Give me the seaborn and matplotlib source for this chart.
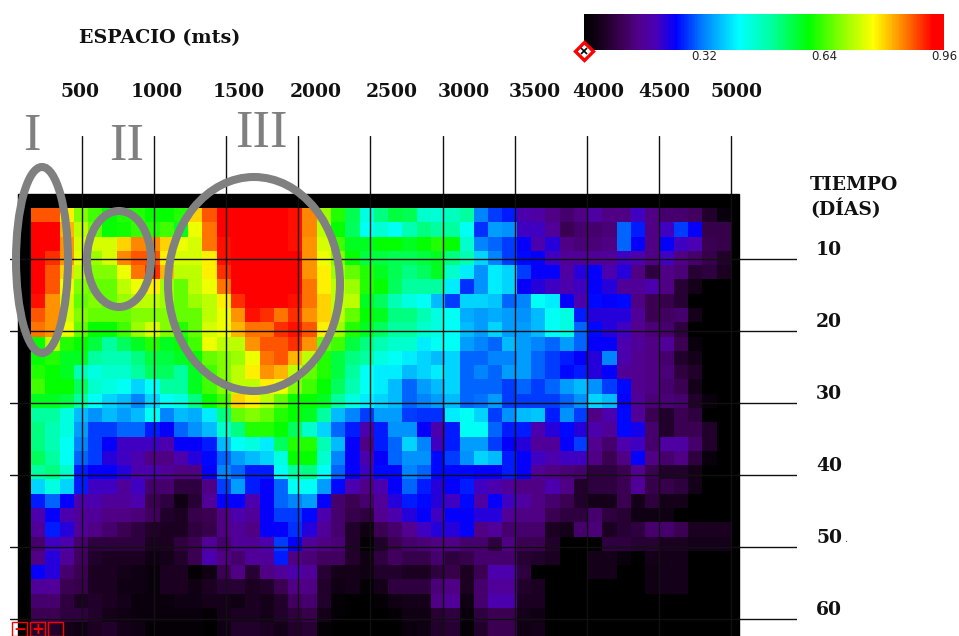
import matplotlib
matplotlib.use("Agg")
import matplotlib.pyplot as plt
import numpy as np
import pandas as pd
import seaborn as sns
from matplotlib.colors import LinearSegmentedColormap
from matplotlib.patches import Ellipse, Rectangle

# valores, en centesimas (escala 0 - 96)
r00 = [88,88,78,68,64,60,62,62,60,60, 62,80,88,96,96,96,96,96,92,85, 70,62,55,44,52,56,55,46,45,47, 50,32,28,26,18,17,14,12,14,17, 14,14,20,14,12,12,11,6,2]
r01 = [93,93,82,72,66,60,61,63,62,64, 58,76,86,96,96,96,96,96,92,85, 72,60,54,42,45,42,48,52,50,50, 42,27,34,33,20,20,16,10,12,12, 13,30,26,14,20,28,24,9,9]
r02 = [93,93,84,74,74,74,80,85,85,80, 76,74,86,92,96,96,96,96,92,84, 74,64,58,58,60,60,58,60,62,60, 46,32,30,28,24,18,22,14,13,13, 14,30,24,14,24,20,19,10,9]
r03 = [96,90,84,75,70,74,85,88,88,78, 74,74,78,92,96,96,96,96,94,84, 76,68,60,56,56,55,55,56,58,52, 48,38,32,28,25,24,20,16,16,16, 16,20,18,14,20,14,12,9,6]
r04 = [96,88,80,72,68,68,76,86,90,82, 72,72,78,90,96,96,96,96,94,84, 78,70,66,62,58,55,52,54,58,46, 40,33,40,38,28,24,24,17,22,24, 18,22,14,8,14,13,7,8,5]
r05 = [96,88,76,68,66,66,72,76,78,70, 66,72,76,86,94,96,96,96,94,86, 78,72,70,62,60,54,50,50,50,40, 27,33,40,38,24,22,20,18,20,24, 22,16,16,18,14,7,4,0,0]
r06 = [92,84,74,66,68,66,70,72,72,70, 66,70,72,78,90,96,96,96,92,86, 80,72,72,58,54,48,44,42,36,28, 38,38,37,30,32,42,40,24,18,25, 24,25,14,10,9,7,0,0,0]
r07 = [88,84,74,68,66,66,66,68,68,68, 66,66,72,76,84,92,90,86,90,84, 80,72,66,60,58,52,52,48,44,42, 35,34,35,34,33,36,42,44,26,22, 22,22,16,10,11,12,4,0,0]
r08 = [86,84,76,66,60,60,64,70,74,68, 62,66,74,76,82,86,86,90,92,88, 78,70,62,58,54,50,50,46,44,42, 36,34,38,34,34,36,42,44,30,25, 22,20,15,13,12,8,0,0,0]
r09 = [60,72,62,60,56,50,54,58,62,58, 60,64,76,72,72,84,88,88,90,84, 66,64,56,52,48,46,46,40,42,42, 34,32,30,36,34,32,30,34,30,24, 24,18,16,14,16,10,2,0,0]
r10 = [60,62,58,58,50,48,48,52,56,56, 58,60,66,68,70,76,86,88,82,72, 62,56,52,50,44,42,40,38,36,38, 30,30,32,32,34,30,28,26,24,22, 32,18,15,14,12,6,4,0,0]
r11 = [62,60,58,48,44,46,46,50,54,54, 50,58,64,68,72,78,84,82,72,66, 62,56,50,42,40,40,36,38,40,38, 30,32,30,34,34,30,28,25,26,22, 24,16,15,14,13,8,6,0,0]
r12 = [64,60,60,54,46,44,42,38,42,50, 50,58,64,68,72,72,78,76,68,64, 60,54,48,42,40,36,30,34,36,38, 30,30,30,28,30,28,30,34,36,33, 28,25,15,14,12,10,4,0,0]
r13 = [58,58,56,50,42,38,36,32,38,42, 44,52,60,64,80,78,72,66,60,60, 58,50,44,40,38,36,30,32,34,36, 30,31,34,28,28,28,28,30,33,38, 36,24,16,13,13,12,6,2,0]
r14 = [50,50,44,36,33,36,34,36,42,32, 36,35,40,52,66,68,66,62,60,58, 50,36,32,28,34,34,28,27,27,40, 42,38,28,33,36,37,26,33,28,14, 18,25,16,10,6,10,8,0,0]
r15 = [52,48,44,34,28,28,30,30,26,24, 30,33,36,46,52,62,62,60,54,46, 38,30,26,18,26,33,33,24,18,26, 42,42,30,26,26,18,22,25,22,18, 16,25,23,12,6,10,10,6,0]
r16 = [52,48,42,32,28,24,20,20,20,18, 24,24,26,36,42,44,40,54,62,62, 48,36,24,14,26,30,38,32,20,26, 34,34,28,24,22,16,16,24,28,15, 12,18,20,12,17,17,12,6,0]
r17 = [54,50,42,30,28,22,20,18,14,14, 18,22,25,30,34,36,38,44,60,60, 46,32,24,18,24,30,33,33,25,28, 33,38,36,26,24,20,18,20,20,14, 10,14,24,14,12,14,8,2,0]
r18 = [50,52,46,26,24,24,22,18,18,16, 14,14,24,32,30,26,26,42,50,52, 42,30,24,20,25,25,32,30,25,25, 25,24,24,26,24,16,14,13,12,8, 8,10,15,10,6,6,4,0,0]
r19 = [38,44,38,26,20,20,16,20,12,12, 8,8,14,28,34,26,24,30,42,42, 34,25,18,14,18,24,30,26,22,24, 26,20,18,16,14,14,18,14,6,8, 8,10,16,9,9,8,4,0,0]
r20 = [26,30,24,18,18,16,16,18,10,8, 3,7,16,24,24,18,24,30,32,34, 24,12,10,12,16,22,26,25,22,20, 25,17,24,20,17,14,12,10,6,4, 4,10,4,8,4,4,0,0,0]
r21 = [18,24,18,16,16,14,14,13,11,6, 5,9,10,14,18,16,24,28,28,25, 18,12,9,8,15,18,22,24,20,24, 24,22,22,16,14,14,10,8,8,12, 8,7,3,3,3,0,0,0,0]
r22 = [16,26,22,16,14,12,10,8,6,5, 5,8,9,14,16,14,24,24,27,22, 16,12,6,3,10,12,15,20,22,22, 24,14,16,12,12,12,5,4,12,13, 5,7,8,12,12,10,5,5,5]
r23 = [12,20,18,12,8,8,8,8,5,5, 8,10,16,12,16,16,18,28,24,16, 14,13,6,1,6,10,12,13,14,14, 12,12,8,14,10,10,6,0,0,0, 8,8,7,7,5,5,4,4,4]
r24 = [14,22,16,11,6,5,5,5,3,4, 6,10,18,14,12,16,16,26,14,13, 11,11,6,3,8,11,9,9,12,8, 9,12,12,12,7,6,5,0,0,4, 4,2,0,4,4,4,0,0,0]
r25 = [24,22,12,10,5,5,4,3,2,5, 5,1,3,10,14,7,14,16,18,16, 7,4,4,3,6,6,5,5,8,9, 5,10,18,18,8,0,0,0,0,4, 4,0,0,3,4,4,0,0,0]
r26 = [16,16,10,9,5,5,3,3,2,5, 5,3,5,7,7,5,6,10,14,14, 6,3,4,1,4,8,8,8,13,14, 5,12,16,16,6,5,0,0,0,0, 0,0,0,3,4,4,0,0,0]
r27 = [12,12,8,5,6,5,4,2,2,2, 3,3,4,4,3,5,4,6,11,12, 6,1,0,0,1,3,4,4,14,16, 3,12,18,18,5,5,0,0,0,0, 0,0,0,0,0,0,0,0,0]
r28 = [10,10,8,8,6,4,3,2,2,2, 2,2,1,4,5,5,4,6,8,9, 4,1,0,0,0,1,3,3,7,8, 2,8,10,10,4,3,0,0,0,0, 0,0,0,0,0,0,0,0,0]
r29 = [6,6,4,3,5,6,4,3,1,1, 1,1,0,3,6,6,5,4,6,7, 1,0,0,0,0,0,2,3,6,7, 1,6,10,10,3,4,0,0,0,0, 0,0,0,0,0,0,0,0,0]

filas = [r00, r01, r02, r03, r04, r05, r06, r07, r08, r09, r10, r11, r12, r13, r14,
         r15, r16, r17, r18, r19, r20, r21, r22, r23, r24, r25, r26, r27, r28, r29]

espacio = [500, 1000, 1500, 2000, 2500, 3000, 3500, 4000, 4500, 5000]
tiempo = [10, 20, 30, 40, 50, 60]
escala = [0, 0.32, 0.64, 0.96]
escala_txt = ['0', '0.32', '0.64', '0.96']
zonas = ['I', 'II', 'III']

W, H = 959, 636
SERIF = 'DejaVu Serif'

# cada celda mide unos 14.3 px
CX, CY = 700 / 49, 428.5 / 30


def xpos(px):
    return (px - 31) / CX


def ypos(py):
    return (py - 208) / CY


colores = [(0, '#000000'), (0.05, '#1a0020'), (0.1, '#3a0050'), (0.15, '#52008a'), (0.2, '#4a00b8'),
           (0.255, '#0000ff'), (0.33, '#0080ff'), (0.43, '#00ffff'), (0.52, '#00ffa0'),
           (0.625, '#00ff00'), (0.72, '#90ff00'), (0.805, '#ffff00'), (0.88, '#ff9000'),
           (0.97, '#ff0000'), (1, '#ff0000')]
mapa = LinearSegmentedColormap.from_list('espectro', colores)

sns.set_theme(style='white')

df = pd.DataFrame(np.array(filas) / 100)

fig = plt.figure(figsize=(W / 100, H / 100), dpi=100)
ax = fig.add_axes([10 / W, 0, 787 / W, 500 / H])
cax = fig.add_axes([584 / W, 1 - 50 / H, 360 / W, 36 / H])

sns.heatmap(df, ax=ax, cmap=mapa, vmin=0, vmax=0.96, cbar_ax=cax,
            cbar_kws={'orientation': 'horizontal', 'ticks': escala},
            xticklabels=False, yticklabels=False)

# margen negro detras del mapa
ax.add_patch(Rectangle((xpos(18), ypos(194)), xpos(739) - xpos(18), ypos(640) - ypos(194),
                       color='black', zorder=0))
ax.set_xlim(xpos(10), xpos(797))
ax.set_ylim(ypos(636), ypos(136))

# lineas de la retícula, sobre el mapa
ax.set_xticks([xpos(82 + 72.1 * (m / 500 - 1)) for m in espacio])
ax.set_yticks([ypos(259 + 71.9 * (d / 10 - 1)) for d in tiempo])
ax.set_xticklabels([])
ax.set_yticklabels([])
ax.tick_params(length=0)
ax.set_axisbelow(False)
ax.grid(True, color='#101010', lw=1)
for s in ax.spines.values():
    s.set_visible(False)
ax.patch.set_visible(False)

cb = ax.collections[0].colorbar
cb.outline.set_visible(False)
cb.set_ticklabels(escala_txt)
cb.ax.tick_params(length=0, labelsize=8.5, pad=0, colors='#222222')
for t in cb.ax.get_xticklabels():
    t.set_family('DejaVu Sans')
cb.ax.plot([0], [-0.03], marker='D', ms=9, mfc='white', mec='#ff0000', mew=2.4,
           clip_on=False, zorder=5, ls='none')
cb.ax.plot([0], [-0.03], marker='x', ms=4, mec='black', mew=1.2,
           clip_on=False, zorder=6, ls='none')

# capa en pixeles para rotulos y elipses
top = fig.add_axes([0, 0, 1, 1])
top.set_xlim(0, W)
top.set_ylim(H, 0)
top.axis('off')

for cx, cy, w, h in [(42, 260, 52, 186), (119, 259, 64, 96), (254, 284, 172, 214)]:
    top.add_patch(Ellipse((cx, cy), w, h, fill=False, ec='#808080', lw=5.8))

for txt, cx, cy in zip(zonas, [32, 127, 261], [137, 147, 134]):
    top.text(cx, cy, txt, family='Liberation Serif', fontsize=38, color='#808080',
             ha='center', va='center')

top.text(79, 38, 'ESPACIO (mts)', family=SERIF, weight='bold', fontsize=13.8,
         color='#111111', ha='left', va='center')

for m, cx in zip(espacio, [80, 157, 239, 316, 392, 464, 535, 598, 664, 736]):
    top.text(cx, 92, str(m), family=SERIF, weight='bold', fontsize=13.5, color='#111111',
             ha='center', va='center')

top.text(810, 185, 'TIEMPO', family=SERIF, weight='bold', fontsize=13.5, color='#111111',
         ha='left', va='center')
top.text(810, 209, '(DÍAS)', family=SERIF, weight='bold', fontsize=13.5, color='#111111',
         ha='left', va='center')
for d, cy in zip(tiempo, [250, 322, 394, 466, 538, 610]):
    top.text(829, cy, str(d), family=SERIF, weight='bold', fontsize=13.5, color='#111111',
             ha='center', va='center')
top.text(846, 539, '.', family=SERIF, fontsize=7, color='#444444', ha='center', va='center')

# botones de zoom abajo a la izquierda
for bx, signo in zip([12, 30, 48], ['−', '+', '']):
    top.add_patch(Rectangle((bx, 622), 15, 14, fill=False, ec='#ff0000', lw=1))
    top.text(bx + 7.5, 629, signo, family='DejaVu Sans', weight='bold', fontsize=11,
             color='#ff0000', ha='center', va='center')

fig.savefig('out.png', dpi=100)
